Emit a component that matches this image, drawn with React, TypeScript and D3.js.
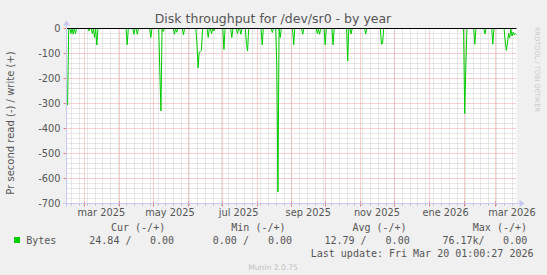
import React from "react";
import * as d3 from "d3";

// ---- data ----
const titleText = "Disk throughput for /dev/sr0 - by year";
const yAxisLabel = "Pr second read (-) / write (+)";
const yTicks = [0, -100, -200, -300, -400, -500, -600, -700];
const monthLabels = ["mar 2025", "may 2025", "jul 2025", "sep 2025", "nov 2025", "ene 2026", "mar 2026"];
const monthLabelDates = ["2025-03-16", "2025-05-16", "2025-07-16", "2025-09-16", "2025-11-16", "2026-01-16", "2026-03-16"];

// read (-) bytes per second, daily averages; days not listed sit at 0
const spikeDates = [
  "2025-02-14", "2025-02-17", "2025-02-19", "2025-02-21", "2025-03-05", "2025-03-08", "2025-03-10", "2025-03-12",
  "2025-04-08", "2025-04-14", "2025-04-17", "2025-04-29", "2025-05-07", "2025-05-08", "2025-05-10", "2025-05-20",
  "2025-05-22", "2025-05-28", "2025-06-09", "2025-06-10", "2025-06-11", "2025-06-12", "2025-06-13", "2025-06-19",
  "2025-06-22", "2025-06-24", "2025-07-03", "2025-07-10", "2025-07-15", "2025-07-18", "2025-07-23", "2025-07-24",
  "2025-08-06", "2025-08-15", "2025-08-19", "2025-08-20", "2025-08-22", "2025-09-03", "2025-09-11", "2025-09-24",
  "2025-09-26", "2025-10-01", "2025-10-08", "2025-10-21", "2025-10-24", "2025-11-06", "2025-11-20", "2025-11-21",
  "2026-02-02", "2026-02-03", "2026-02-11", "2026-02-20", "2026-02-27", "2026-03-10", "2026-03-11", "2026-03-12",
  "2026-03-13", "2026-03-14", "2026-03-16", "2026-03-17", "2026-03-18", "2026-03-19", "2026-03-20",
];
const spikeValues = [
  -307, -20, -23, -20, -10, -20, -36, -66,
  -65, -23, -23, -36, -170, -330, -12, -23,
  -15, -25, -60, -157, -95, -92, -88, -36,
  -20, -10, -84, -36, -20, -23, -60, -90,
  -65, -16, -150, -654, -36, -65, -23, -20,
  -23, -65, -65, -130, -22, -22, -63, -60,
  -340, -150, -63, -22, -63, -50, -87, -60,
  -20, -37, -30, -15, -25, -20, -25,
];

const legendHeaders = ["Cur (-/+)", "Min (-/+)", "Avg (-/+)", "Max (-/+)"];
const legendSeries = "Bytes";
const legendValues = ["24.84 /", "0.00", "0.00 /", "0.00", "12.79 /", "0.00", "76.17k/", "0.00"];
const lastUpdate = "Last update: Fri Mar 20 01:00:27 2026";
const footer = "Munin 2.0.75";
const sideText = "RRDTOOL / TOBI OETIKER";

// ---- layout ----
const W = 547, H = 275;
const L = 66.5, R = 516.5, T = 28.5, B = 203.5;
const endTime = new Date(2026, 2, 20, 1, 0, 27);
const startTime = new Date(endTime.getTime() - 400 * 86400000);

function parseDay(s: string) {
  const [y, m, d] = s.split("-").map(Number);
  return new Date(y, m - 1, d);
}

export default function App() {
  const x = d3.scaleTime().domain([startTime, endTime]).range([L, R]);
  const y = d3.scaleLinear().domain([-700, 0]).range([B, T]);

  const spikeMap = new Map<string, number>();
  spikeDates.forEach((s, i) => spikeMap.set(s, spikeValues[i]));
  const days = d3.timeDay.range(parseDay("2025-02-14"), d3.timeDay.offset(parseDay("2026-03-20"), 1));
  const fmt = d3.timeFormat("%Y-%m-%d");
  const series = days.map((d) => ({ d, v: spikeMap.get(fmt(d)) ?? 0 }));
  const line = d3.line<{ d: Date; v: number }>().x((p) => x(p.d)).y((p) => y(p.v));

  const weeks = d3.timeMonday.range(startTime, endTime);
  const months = d3.timeMonth.range(startTime, endTime);
  const minorY = d3.range(-680, 0, 20).filter((v) => v % 100 !== 0);
  const majorY = yTicks.filter((v) => v !== 0 && v !== -700);

  const font = "'DejaVu Sans', sans-serif";
  const mono = "'DejaVu Sans Mono', monospace";
  const txt = "#555";
  const axisCol = "#c8c8f4";
  const minorCol = "#cfcfcf";
  const majorCol = "#eaa0a0";

  const valueXs = [89.3, 150, 212.8, 268, 324.5, 385.6, 442.4, 503.1];
  const headerXs = [111, 231.3, 352.4, 472.8];

  return (
    <svg width={W} height={H} style={{ position: "absolute", left: 0, top: 0 }} xmlns="http://www.w3.org/2000/svg">
      <rect x={0} y={0} width={W} height={H} fill="#f0f0f0" />
      <rect x={L} y={T} width={R - L} height={B - T} fill="#ffffff" />

      {/* minor grid */}
      {weeks.map((w, i) => (
        <line key={"wv" + i} x1={Math.round(x(w)) + 0.5} x2={Math.round(x(w)) + 0.5} y1={T} y2={B} stroke={minorCol} strokeWidth={1} strokeDasharray="1 1" />
      ))}
      {minorY.map((v) => (
        <line key={"mh" + v} x1={L} x2={R} y1={y(v)} y2={y(v)} stroke={minorCol} strokeWidth={1} strokeDasharray="1 1" />
      ))}
      {/* major grid */}
      {months.map((m, i) => (
        <line key={"mv" + i} x1={Math.round(x(m)) + 0.5} x2={Math.round(x(m)) + 0.5} y1={T} y2={B} stroke={majorCol} strokeWidth={1} strokeDasharray="1 1" />
      ))}
      {majorY.map((v) => (
        <line key={"Mh" + v} x1={L} x2={R} y1={y(v)} y2={y(v)} stroke={majorCol} strokeWidth={1} strokeDasharray="1 1" />
      ))}

      {/* axis ticks */}
      {weeks.map((w, i) => (
        <line key={"wt" + i} x1={Math.round(x(w)) + 0.5} x2={Math.round(x(w)) + 0.5} y1={B} y2={B + 2} stroke="#bbbbbb" />
      ))}
      {months.map((m, i) => (
        <line key={"mt" + i} x1={Math.round(x(m)) + 0.5} x2={Math.round(x(m)) + 0.5} y1={B - 2} y2={B + 3} stroke="#e08080" />
      ))}
      {yTicks.map((v) => (
        <line key={"yt" + v} x1={L - 3} x2={L} y1={y(v)} y2={y(v)} stroke="#e08080" />
      ))}

      {/* data */}
      <path d={line(series) ?? ""} fill="none" stroke="#00cc00" strokeWidth={1} />

      {/* zero line */}
      <line x1={L} x2={R} y1={y(0)} y2={y(0)} stroke="#000000" strokeWidth={1} />

      {/* axes */}
      <line x1={L - 3} x2={R + 3} y1={B} y2={B} stroke={axisCol} />
      <path d={`M${R + 3},${B - 3.5} L${R + 8},${B} L${R + 3},${B + 3.5} Z`} fill={axisCol} />
      <line x1={L} x2={L} y1={B + 3} y2={T - 3} stroke={axisCol} />
      <path d={`M${L - 3.5},${T - 3} L${L},${T - 8} L${L + 3.5},${T - 3} Z`} fill={axisCol} />

      {/* y tick labels */}
      {yTicks.map((v) => (
        <text key={"yl" + v} x={60.5} y={y(v) + 3.5} textAnchor="end" fontFamily={font} fontSize={9.8} fill={txt}>
          {v}
        </text>
      ))}
      {/* x tick labels */}
      {monthLabels.map((lab, i) => (
        <text key={"xl" + i} x={x(parseDay(monthLabelDates[i]))} y={216} textAnchor="middle" fontFamily={font} fontSize={9.8} fill={txt}>
          {lab}
        </text>
      ))}

      {/* title */}
      <text x={273} y={23} textAnchor="middle" fontFamily={font} fontSize={12.5} fill={txt}>
        {titleText}
      </text>
      {/* y label */}
      <text transform={`translate(13.5,${123}) rotate(-90)`} textAnchor="middle" fontFamily={font} fontSize={10} fill={txt}>
        {yAxisLabel}
      </text>
      {/* side text */}
      <text transform="translate(535,27) rotate(90)" textAnchor="start" fontFamily={font} fontSize={6.6} fill="#c8c8c8">
        {sideText}
      </text>

      {/* legend */}
      {legendHeaders.map((h, i) => (
        <text key={"lh" + i} x={headerXs[i]} y={231} fontFamily={mono} fontSize={10} fill={txt} style={{ whiteSpace: "pre" }}>
          {h}
        </text>
      ))}
      <rect x={14} y={237} width={6} height={6} fill="#00cc00" />
      <text x={26.2} y={243.5} fontFamily={mono} fontSize={10} fill={txt}>
        {legendSeries}
      </text>
      {legendValues.map((v, i) => (
        <text key={"lv" + i} x={valueXs[i]} y={243.5} fontFamily={mono} fontSize={10} fill={txt} style={{ whiteSpace: "pre" }}>
          {v}
        </text>
      ))}
      <text x={533.5} y={256.5} textAnchor="end" fontFamily={mono} fontSize={10} fill={txt} style={{ whiteSpace: "pre" }}>
        {lastUpdate}
      </text>
      <text x={273} y={269.5} textAnchor="middle" fontFamily={font} fontSize={7.6} fill="#c0c0c0">
        {footer}
      </text>
    </svg>
  );
}
